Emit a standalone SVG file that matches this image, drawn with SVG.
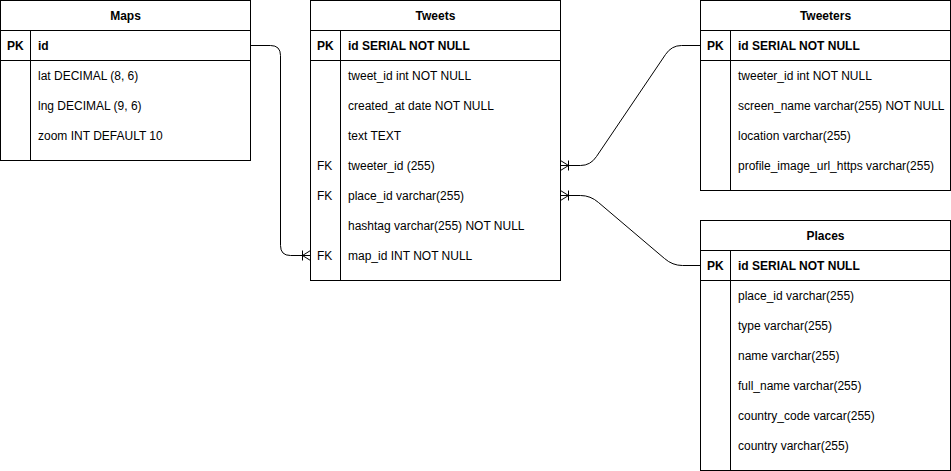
<svg xmlns="http://www.w3.org/2000/svg" width="951" height="471" viewBox="0 0 951 471">
  <style>
    .box { fill: #ffffff; stroke: #000000; stroke-width: 1; }
    .ln { fill: none; stroke: #000000; stroke-width: 1; }
    .t { font-family: "Liberation Sans", Arial, sans-serif; font-size: 12px; fill: #000000; }
    .b { font-weight: bold; }
    .c { text-anchor: middle; }
    .conn { fill: none; stroke: #000000; stroke-width: 1; }
  </style>
  <rect width="951" height="471" fill="#ffffff"/>

  <!-- Maps table -->
  <g id="maps">
    <rect class="box" x="0.5" y="0.5" width="250" height="160"/>
    <line class="ln" x1="0.5" y1="30.5" x2="250.5" y2="30.5"/>
    <line class="ln" x1="0.5" y1="60.5" x2="250.5" y2="60.5"/>
    <line class="ln" x1="30.5" y1="30.5" x2="30.5" y2="160.5"/>
    <text class="t b c" x="125.5" y="20">Maps</text>
    <text class="t b" x="7" y="50">PK</text>
    <text class="t b" x="38" y="50">id</text>
    <text class="t" x="38" y="80">lat DECIMAL (8, 6)</text>
    <text class="t" x="38" y="110">lng DECIMAL (9, 6)</text>
    <text class="t" x="38" y="140">zoom INT DEFAULT 10</text>
  </g>

  <!-- Tweets table -->
  <g id="tweets">
    <rect class="box" x="310.5" y="0.5" width="250" height="280"/>
    <line class="ln" x1="310.5" y1="30.5" x2="560.5" y2="30.5"/>
    <line class="ln" x1="310.5" y1="60.5" x2="560.5" y2="60.5"/>
    <line class="ln" x1="340.5" y1="30.5" x2="340.5" y2="280.5"/>
    <text class="t b c" x="435.5" y="20">Tweets</text>
    <text class="t b" x="317" y="50">PK</text>
    <text class="t b" x="348" y="50">id SERIAL NOT NULL</text>
    <text class="t" x="348" y="80">tweet_id int NOT NULL</text>
    <text class="t" x="348" y="110">created_at date NOT NULL</text>
    <text class="t" x="348" y="140">text TEXT</text>
    <text class="t" x="317" y="170">FK</text>
    <text class="t" x="348" y="170">tweeter_id (255)</text>
    <text class="t" x="317" y="200">FK</text>
    <text class="t" x="348" y="200">place_id varchar(255)</text>
    <text class="t" x="348" y="230">hashtag varchar(255) NOT NULL</text>
    <text class="t" x="317" y="260">FK</text>
    <text class="t" x="348" y="260">map_id INT NOT NULL</text>
  </g>

  <!-- Tweeters table -->
  <g id="tweeters">
    <rect class="box" x="700.5" y="0.5" width="250" height="190"/>
    <line class="ln" x1="700.5" y1="30.5" x2="950.5" y2="30.5"/>
    <line class="ln" x1="700.5" y1="60.5" x2="950.5" y2="60.5"/>
    <line class="ln" x1="730.5" y1="30.5" x2="730.5" y2="190.5"/>
    <text class="t b c" x="825.5" y="20">Tweeters</text>
    <text class="t b" x="707" y="50">PK</text>
    <text class="t b" x="738" y="50">id SERIAL NOT NULL</text>
    <text class="t" x="738" y="80">tweeter_id int NOT NULL</text>
    <text class="t" x="738" y="110">screen_name varchar(255) NOT NULL</text>
    <text class="t" x="738" y="140">location varchar(255)</text>
    <text class="t" x="738" y="170">profile_image_url_https varchar(255)</text>
  </g>

  <!-- Places table -->
  <g id="places">
    <rect class="box" x="700.5" y="220.5" width="250" height="250"/>
    <line class="ln" x1="700.5" y1="250.5" x2="950.5" y2="250.5"/>
    <line class="ln" x1="700.5" y1="280.5" x2="950.5" y2="280.5"/>
    <line class="ln" x1="730.5" y1="250.5" x2="730.5" y2="470.5"/>
    <text class="t b c" x="825.5" y="240">Places</text>
    <text class="t b" x="707" y="270">PK</text>
    <text class="t b" x="738" y="270">id SERIAL NOT NULL</text>
    <text class="t" x="738" y="300">place_id varchar(255)</text>
    <text class="t" x="738" y="330">type varchar(255)</text>
    <text class="t" x="738" y="360">name varchar(255)</text>
    <text class="t" x="738" y="390">full_name varchar(255)</text>
    <text class="t" x="738" y="420">country_code varcar(255)</text>
    <text class="t" x="738" y="450">country varchar(255)</text>
  </g>

  <!-- Relationships -->
  <g id="connectors">
    <!-- Maps.id to Tweets.map_id -->
    <path class="conn" d="M250.5,45.5 L270.5,45.5 Q280.5,45.5 280.5,55.5 L280.5,245.5 Q280.5,255.5 290.5,255.5 L310.5,255.5"/>
    <path class="conn" d="M302.5,250.5 L302.5,260.5 M302.5,255.5 L310.5,250.5 M302.5,255.5 L310.5,260.5"/>
    <!-- Tweets.tweeter_id to Tweeters.id -->
    <path class="conn" d="M560.5,165.5 L580.5,165.5 Q590.5,165.5 596.5,156.5 L665.5,54.5 Q671.5,45.5 681.5,45.5 L700.5,45.5"/>
    <path class="conn" d="M568.5,160.5 L568.5,170.5 M568.5,165.5 L560.5,160.5 M568.5,165.5 L560.5,170.5"/>
    <!-- Tweets.place_id to Places.id -->
    <path class="conn" d="M560.5,195.5 L580.5,195.5 Q590.5,195.5 598.5,202.5 L664.5,258.5 Q672.5,265.5 682.5,265.5 L700.5,265.5"/>
    <path class="conn" d="M568.5,190.5 L568.5,200.5 M568.5,195.5 L560.5,190.5 M568.5,195.5 L560.5,200.5"/>
  </g>
</svg>
